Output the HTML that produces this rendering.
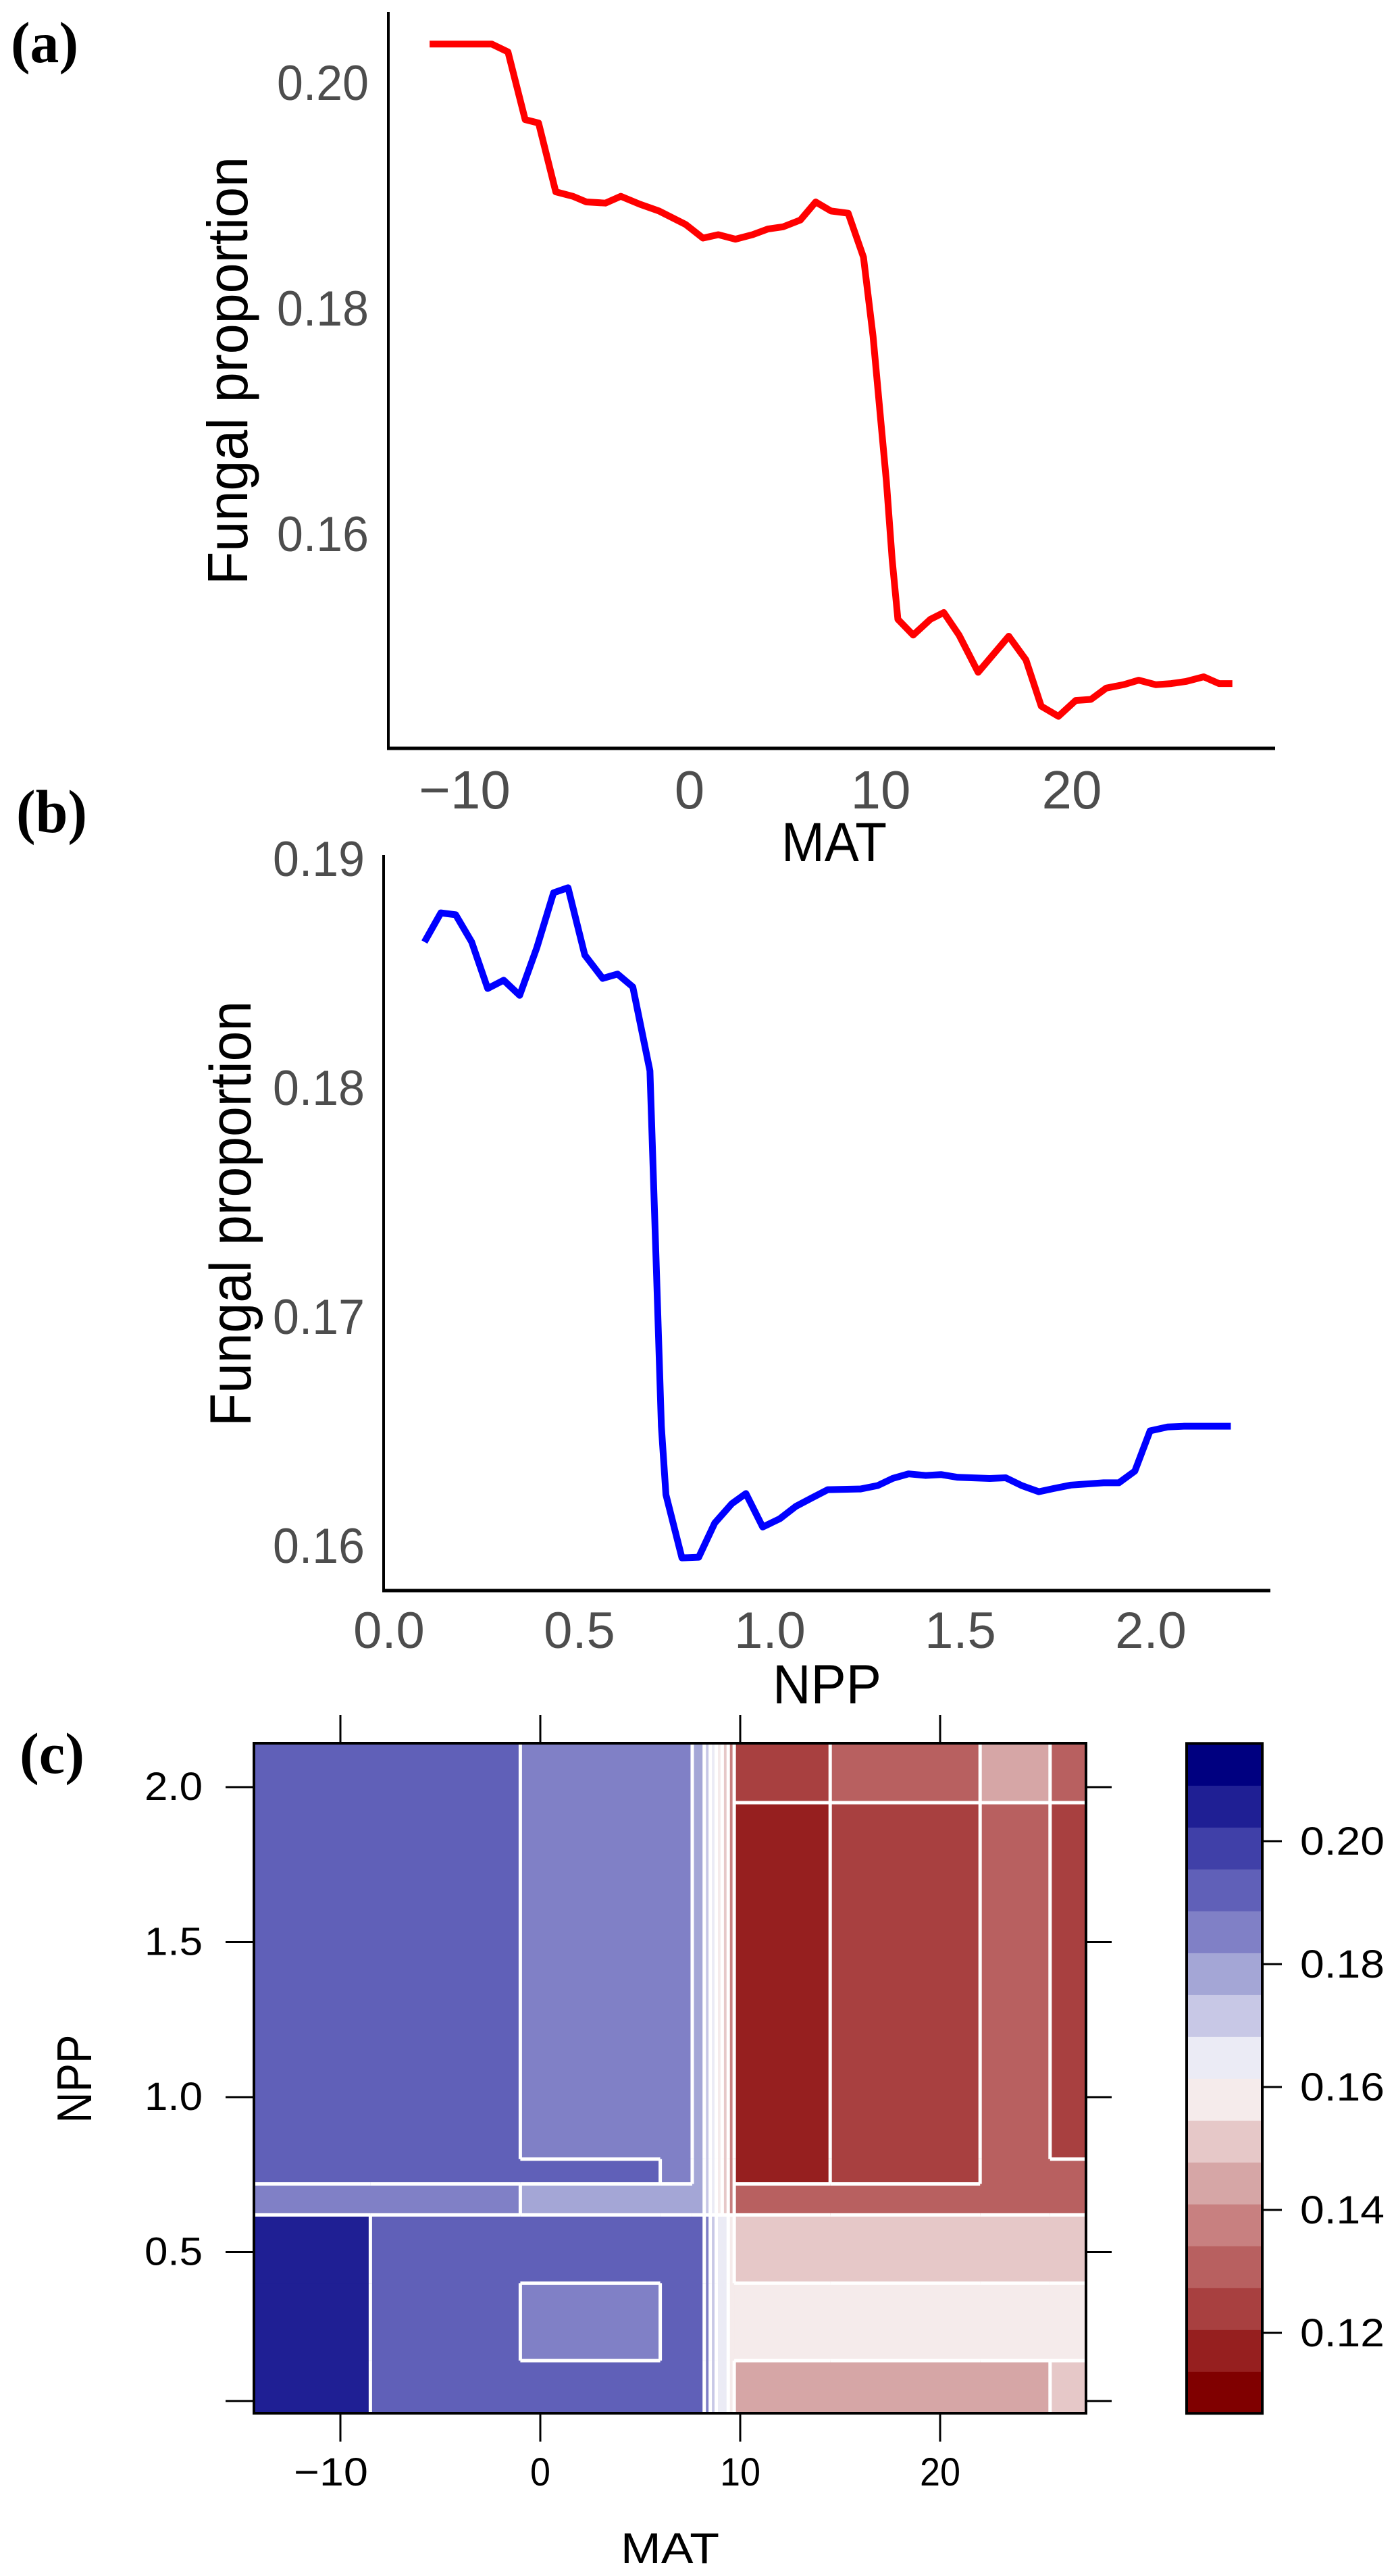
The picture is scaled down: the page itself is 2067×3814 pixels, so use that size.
<!DOCTYPE html>
<html><head><meta charset="utf-8"><style>
html,body{margin:0;padding:0;background:#fff;}
svg{display:block;}
text{font-family:"Liberation Sans",sans-serif;}
.ser{font-family:"Liberation Serif",serif;font-weight:bold;}
</style></head><body>
<svg id="fig" width="2067" height="3814" viewBox="0 0 2067 3814" xmlns="http://www.w3.org/2000/svg">
<text class="ser" x="16" y="92" font-size="86" textLength="100" lengthAdjust="spacingAndGlyphs">(a)</text>
<text class="ser" x="24" y="1232" font-size="90" textLength="105" lengthAdjust="spacingAndGlyphs">(b)</text>
<text class="ser" x="29" y="2625" font-size="86" textLength="96" lengthAdjust="spacingAndGlyphs">(c)</text>
</svg>
<script>
// ---- Panel (a) data ----
const matA = [-13.6,-10.35,-9.5,-8.6,-7.9,-7.0,-6.1,-5.4,-4.4,-3.6,-2.6,-1.6,-0.2,0.7,1.5,2.4,3.3,4.1,4.9,5.8,6.6,7.4,8.3,9.1,9.6,10.0,10.3,10.6,10.9,11.7,12.6,13.3,14.1,15.1,16.7,17.6,18.4,19.3,20.2,21.0,21.8,22.7,23.5,24.4,25.2,26.0,26.9,27.7,28.4];
const fungA = [0.2034,0.2034,0.2027,0.1967,0.1964,0.1903,0.1899,0.1894,0.1893,0.1899,0.1892,0.1886,0.1874,0.1862,0.1865,0.1861,0.1865,0.1870,0.1872,0.1878,0.1894,0.1886,0.1884,0.1845,0.1775,0.1701,0.1646,0.1577,0.1524,0.1510,0.1524,0.1530,0.1510,0.1477,0.1509,0.1488,0.1447,0.1438,0.1452,0.1453,0.1463,0.1466,0.1470,0.1466,0.1467,0.1469,0.1473,0.1467,0.1467];
const ticksAx = [-10,0,10,20];
const ticksAxLabels = ["\u221210","0","10","20"];
const ticksAy = [0.16,0.18,0.20];
const ticksAyLabels = ["0.16","0.18","0.20"];
// ---- Panel (b) data ----
const nppB = [0.093,0.136,0.175,0.217,0.259,0.301,0.343,0.388,0.432,0.470,0.514,0.561,0.600,0.640,0.685,0.701,0.715,0.727,0.769,0.813,0.855,0.900,0.937,0.981,1.026,1.068,1.110,1.152,1.238,1.283,1.322,1.364,1.409,1.449,1.493,1.577,1.619,1.661,1.706,1.745,1.790,1.876,1.916,1.958,1.998,2.044,2.086,2.210];
const fungB = [0.18641,0.18768,0.18760,0.18641,0.18438,0.18474,0.18408,0.18616,0.18856,0.18878,0.18584,0.18482,0.18501,0.18445,0.18078,0.17259,0.16526,0.16227,0.15951,0.15954,0.16103,0.16188,0.16232,0.16086,0.16122,0.16176,0.16213,0.16249,0.16252,0.16267,0.16298,0.16318,0.16311,0.16315,0.16303,0.16298,0.16301,0.16267,0.16240,0.16254,0.16269,0.16279,0.16279,0.16330,0.16506,0.16523,0.16526,0.16526];
const ticksBx = [0,0.5,1,1.5,2];
const ticksBxLabels = ["0.0","0.5","1.0","1.5","2.0"];
const ticksBy = [0.16,0.17,0.18,0.19];
const ticksByLabels = ["0.16","0.17","0.18","0.19"];
// ---- Panel (c) data ----
const matBreaks = [-14.3,-8.5,-1,6,7.6,8.2,8.5,8.8,9.1,9.4,9.7,14.5,22,25.5,27.3];
const nppBreaks = [2.14,1.95,0.8,0.72,0.62,0.4,0.15,-0.02];
const cellRow0 = [0.190,0.190,0.183,0.183,0.177,0.170,0.165,0.160,0.150,0.140,0.124,0.131,0.145,0.131];
const cellRow1 = [0.190,0.190,0.183,0.183,0.177,0.170,0.165,0.160,0.150,0.140,0.117,0.124,0.131,0.124];
const cellRow2 = [0.190,0.190,0.190,0.183,0.177,0.170,0.165,0.160,0.150,0.140,0.117,0.124,0.131,0.131];
const cellRow3 = [0.183,0.183,0.177,0.177,0.177,0.170,0.165,0.160,0.150,0.140,0.131,0.131,0.131,0.131];
const cellRow4 = [0.203,0.190,0.190,0.190,0.190,0.185,0.175,0.168,0.163,0.158,0.153,0.153,0.153,0.153];
const cellRow5 = [0.203,0.190,0.183,0.190,0.190,0.185,0.175,0.168,0.163,0.158,0.158,0.160,0.160,0.160];
const cellRow6 = [0.203,0.190,0.190,0.190,0.190,0.185,0.175,0.168,0.163,0.158,0.147,0.147,0.147,0.153];
const cellRows = [cellRow0,cellRow1,cellRow2,cellRow3,cellRow4,cellRow5,cellRow6];
const colorMin = 0.1069, colorMax = 0.2159;
const binColors = ['#800000','#961f1f','#a84040','#b86060','#c88080','#d6a6a6','#e6c8c8','#f5ebeb','#ebebf5','#c8c8e6','#a4a6d6','#8080c6','#6060b8','#4040a8','#1f1f94','#000080'];
const ticksCx = [-10,0,10,20];
const ticksCxLabels = ["\u221210","0","10","20"];
const ticksCy = [0.02,0.5,1.0,1.5,2.0];
const ticksCyLabels = ["","0.5","1.0","1.5","2.0"];
const ticksBar = [0.12,0.14,0.16,0.18,0.20];
const ticksBarLabels = ["0.12","0.14","0.16","0.18","0.20"];

const NS = "http://www.w3.org/2000/svg";
const svg = document.getElementById('fig');
function el(tag, attrs, parent){ const e=document.createElementNS(NS,tag); for(const k in attrs) e.setAttribute(k,attrs[k]); (parent||svg).appendChild(e); return e; }
function txt(s, attrs){ const e=el('text',attrs); e.textContent=s; return e; }

// ===== Panel (a) =====
const xA = v => 1021 + 28.3*v;
const yA = v => 456 - (v-0.18)*16700;
let e;
e = el('line',{x1:575,y1:18,x2:575,y2:1108,stroke:'#000','stroke-width':4});


e = el('line',{x1:573,y1:1108,x2:1888,y2:1108,stroke:'#000','stroke-width':5});


ticksAy.forEach((t,i)=>{
  const l = txt(ticksAyLabels[i],{x:546,y:yA(t)+26,'font-size':73,'text-anchor':'end',textLength:136,lengthAdjust:'spacingAndGlyphs',fill:'#4d4d4d'});
  
  
});
ticksAx.forEach((t,i)=>{
  const l = txt(ticksAxLabels[i],{x:xA(t)-(t<0?50:0),y:1197,'font-size':80,'text-anchor':'middle',fill:'#4d4d4d'});
  
  
});
e = el('polyline',{points:matA.map((m,i)=>xA(m)+','+yA(fungA[i])).join(' '),fill:'none',stroke:'#ff0000','stroke-width':10,'stroke-linejoin':'round'});


e = txt('MAT',{x:1157,y:1275,'font-size':82,textLength:156,lengthAdjust:'spacingAndGlyphs',fill:'#000'});


e = txt('Fungal proportion',{x:0,y:0,'font-size':84,textLength:634,lengthAdjust:'spacingAndGlyphs','text-anchor':'middle',transform:'translate(366,549) rotate(-90)',fill:'#000'});



// ===== Panel (b) =====
const xB = v => 576 + 564*v;
const yB = v => 1273 + (0.19-v)*33900;
e = el('line',{x1:568,y1:1266,x2:568,y2:2355,stroke:'#000','stroke-width':4});


e = el('line',{x1:566,y1:2355,x2:1881,y2:2355,stroke:'#000','stroke-width':5});


ticksBy.forEach((t,i)=>{
  const l = txt(ticksByLabels[i],{x:540,y:yB(t)+24,'font-size':73,'text-anchor':'end',textLength:136,lengthAdjust:'spacingAndGlyphs',fill:'#4d4d4d'});
  
  
});
ticksBx.forEach((t,i)=>{
  const l = txt(ticksBxLabels[i],{x:xB(t),y:2440,'font-size':76,'text-anchor':'middle',fill:'#4d4d4d'});
  
  
});
e = el('polyline',{points:nppB.map((m,i)=>xB(m)+','+yB(fungB[i])).join(' '),fill:'none',stroke:'#0000ff','stroke-width':10,'stroke-linejoin':'round'});


e = txt('NPP',{x:1144,y:2522,'font-size':82,textLength:161,lengthAdjust:'spacingAndGlyphs',fill:'#000'});


e = txt('Fungal proportion',{x:0,y:0,'font-size':86,textLength:630,lengthAdjust:'spacingAndGlyphs','text-anchor':'middle',transform:'translate(371,1797) rotate(-90)',fill:'#000'});



// ===== Panel (c) =====
const L=376,R=1608,T=2581,B=3573;
const xC = v => 800 + 29.6*v;
const yC = v => 3564 - v*459;
const binOf = v => Math.max(0,Math.min(binColors.length-1,Math.floor((v-colorMin)/((colorMax-colorMin)/binColors.length))));
const gHeat = el('g',{});


cellRows.forEach((row,r)=>{
  row.forEach((v,c)=>{
    const x0=Math.max(L,xC(matBreaks[c])), x1=Math.min(R,xC(matBreaks[c+1]));
    const y0=Math.max(T,yC(nppBreaks[r])), y1=Math.min(B,yC(nppBreaks[r+1]));
    const rc = el('rect',{x:x0,y:y0,width:x1-x0+0.6,height:y1-y0+0.6,fill:binColors[binOf(v)]},gHeat);
    
    
  });
});
const gCont = el('g',{stroke:'#fff','stroke-width':5,fill:'none'});


cellRows.forEach((row,r)=>{
  row.forEach((v,c)=>{
    const x0=Math.max(L,xC(matBreaks[c])), x1=Math.min(R,xC(matBreaks[c+1]));
    const y0=Math.max(T,yC(nppBreaks[r])), y1=Math.min(B,yC(nppBreaks[r+1]));
    if(c+1<row.length && binOf(row[c+1])!==binOf(v)){
      const ln = el('line',{x1:x1,y1:y0,x2:x1,y2:y1},gCont);
      
      
    }
    if(r+1<cellRows.length && binOf(cellRows[r+1][c])!==binOf(v)){
      const ln = el('line',{x1:x0,y1:y1,x2:x1,y2:y1},gCont);
      
      
    }
  });
});
e = el('rect',{x:L,y:T,width:R-L,height:B-T,fill:'none',stroke:'#000','stroke-width':4});


ticksCx.forEach((t,i)=>{
  const x=xC(t);
  let k=el('line',{x1:x,y1:T-42,x2:x,y2:T,stroke:'#000','stroke-width':3});
  
  
  k=el('line',{x1:x,y1:B,x2:x,y2:B+42,stroke:'#000','stroke-width':3});
  
  
  const w = ticksCxLabels[i].length*30;
  const l = txt(ticksCxLabels[i],{x:x-(t<0?14:0),y:3680,'font-size':58,'text-anchor':'middle',textLength:w+(t<0?20:0),lengthAdjust:'spacingAndGlyphs',fill:'#000'});
  
  
});
ticksCy.forEach((t,i)=>{
  const y=yC(t);
  let k=el('line',{x1:L-42,y1:y,x2:L,y2:y,stroke:'#000','stroke-width':3});
  
  
  k=el('line',{x1:R,y1:y,x2:R+38,y2:y,stroke:'#000','stroke-width':3});
  
  
  if(ticksCyLabels[i]){
    const l = txt(ticksCyLabels[i],{x:300,y:y+19,'font-size':58,'text-anchor':'end',textLength:86,lengthAdjust:'spacingAndGlyphs',fill:'#000'});
    
    
  }
});
e = txt('MAT',{x:919,y:3795,'font-size':64,textLength:146,lengthAdjust:'spacingAndGlyphs',fill:'#000'});


e = txt('NPP',{x:0,y:0,'font-size':72,textLength:131,lengthAdjust:'spacingAndGlyphs','text-anchor':'middle',transform:'translate(135,3078) rotate(-90)',fill:'#000'});


const CBL=1757, CBR=1869;
const yBar = v => 3454 - (v-0.12)*9100;
const gBar = el('g',{});


const binW=(colorMax-colorMin)/binColors.length;
binColors.forEach((c,i)=>{
  const v0=colorMin+i*binW, v1=v0+binW;
  const rc=el('rect',{x:CBL,y:yBar(v1),width:CBR-CBL,height:yBar(v0)-yBar(v1)+0.6,fill:c},gBar);
  
  
});
e = el('rect',{x:CBL,y:yBar(colorMax),width:CBR-CBL,height:yBar(colorMin)-yBar(colorMax),fill:'none',stroke:'#000','stroke-width':4});


ticksBar.forEach((t,i)=>{
  const y=yBar(t);
  const k=el('line',{x1:CBR,y1:y,x2:CBR+29,y2:y,stroke:'#000','stroke-width':3});
  
  
  const l=txt(ticksBarLabels[i],{x:1925,y:y+20,'font-size':58,textLength:125,lengthAdjust:'spacingAndGlyphs',fill:'#000'});
  
  
});
</script>
</body></html>
